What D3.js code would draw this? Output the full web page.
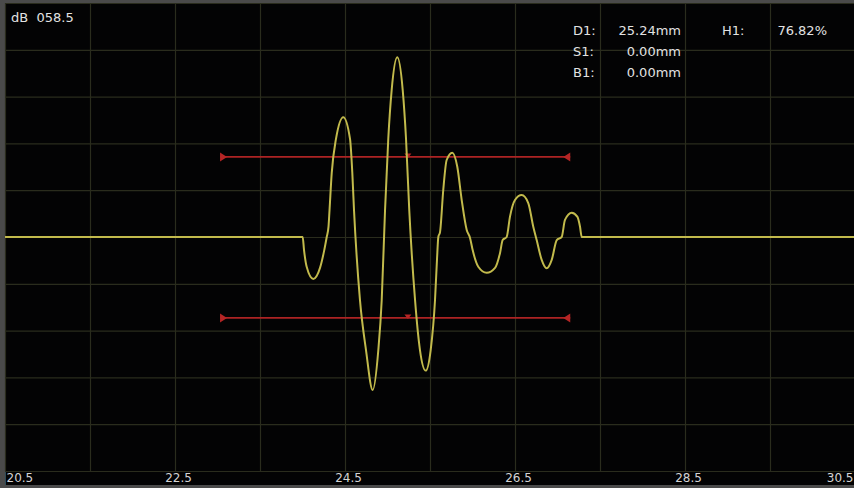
<!doctype html>
<html>
<head>
    <meta charset="utf-8">
    <title>A-scan echo</title>
    <style type="text/css">
        body { margin: 0; background: #4a4a4a; }
        svg { display: block; }
        .grid line { stroke: #2a2c1d; stroke-width: 1.2; }
        .grid path { display: none; }
        .wave { fill: none; stroke: #c2ba4c; stroke-width: 2; stroke-linejoin: round; }
        .gate { stroke: #ad2323; stroke-width: 1.7; }
        .gate-mark { fill: #b52525; }
        .info { fill: #e2e2e2; font-family: "DejaVu Sans", sans-serif; font-size: 13px; }
        .xlab text { fill: #d4d4d4; font-family: "DejaVu Sans", sans-serif; font-size: 12px; }
        .xlab path, .xlab line { display: none; }
    </style>
</head>
<body>
<div id="plot"></div>

<script src="https://d3js.org/d3.v7.min.js"></script>

<script>

    // echo trace: depth (mm) and amplitude (% screen height)
    var depthMm = [20.5, 24.002, 24.018, 24.049, 24.127, 24.206, 24.256, 24.285, 24.306, 24.318,
        24.344, 24.394, 24.480, 24.559, 24.586, 24.606, 24.676, 24.747,
        24.826, 24.892, 24.932, 24.971, 25.009, 25.049, 25.115, 25.179, 25.218, 25.256,
        25.324, 25.382, 25.449, 25.508, 25.559, 25.582, 25.598, 25.618, 25.656, 25.696,
        25.762, 25.821, 25.873, 25.932, 25.971, 26.002, 26.068, 26.167, 26.265, 26.324,
        26.355, 26.402, 26.441, 26.500, 26.579, 26.656, 26.715, 26.755, 26.814, 26.873,
        26.932, 26.991, 27.049, 27.088, 27.167, 27.233, 27.265, 27.285, 30.5];
    var amplitude = [0, 0, -5.6, -12.7, -17.9, -13.2, -5.6, 0, 4.4, 11.5,
        27.4, 41.9, 51.2, 41.9, 27.4, 11.5, -26.9, -48.3,
        -65.4, -48.3, -26.9, 11.5, 41.9, 62.8, 76.8, 62.8, 41.9, 11.5,
        -26.9, -48.3, -57.1, -48.3, -26.9, -9.8, 0, 2.1, 20.1, 32.9,
        36.0, 30.0, 15.8, 3.0, -0.4, -5.6, -12.7, -15.3, -13.2, -6.8,
        -1.3, 0, 8.7, 15.8, 17.9, 14.5, 4.4, -1.3, -9.8, -13.4,
        -9.8, -1.3, 0, 7.3, 10.4, 8.7, 4.4, 0, 0];

    // gates: start mm, end mm, level %
    var gateStart = [23.03, 23.03];
    var gateEnd = [27.15, 27.15];
    var gateLevel = [34.2, -34.6];
    var gateMarkMm = 25.24;

    var xTickLabels = [20.5, 22.5, 24.5, 26.5, 28.5, 30.5];
    var xGridTicks = [20.5, 21.5, 22.5, 23.5, 24.5, 25.5, 26.5, 27.5, 28.5, 29.5, 30.5];
    var yGridTicks = [-100, -80, -60, -40, -20, 0, 20, 40, 60, 80, 100];

    var readoutLeft = [["D1:", "25.24mm"], ["S1:", "0.00mm"], ["B1:", "0.00mm"]];
    var readoutRight = ["H1:", "76.82%"];
    var gainText = "dB  058.5";

    var W = 854, H = 488;
    var plot = { left: 5, right: 855, top: 3, bottom: 471 };

    var xScale = d3.scaleLinear().domain([20.5, 30.5]).range([plot.left, plot.right]);
    var yScale = d3.scaleLinear().domain([-100, 100]).range([plot.bottom, plot.top]);

    var svg = d3.select("#plot").append("svg")
        .attr("width", W)
        .attr("height", H);

    // frame
    svg.append("rect").attr("width", W).attr("height", H).attr("fill", "#4a4a4a");
    svg.append("rect")
        .attr("x", plot.left).attr("y", plot.top)
        .attr("width", W - plot.left).attr("height", 485 - plot.top)
        .attr("fill", "#030304");
    svg.append("line")
        .attr("x1", plot.left + 0.5).attr("x2", plot.left + 0.5)
        .attr("y1", plot.top).attr("y2", 485)
        .attr("stroke", "#2d4a55").attr("stroke-width", 1);

    // grid
    svg.append("g")
        .attr("class", "grid")
        .attr("transform", "translate(0," + plot.bottom + ")")
        .call(d3.axisBottom(xScale).tickValues(xGridTicks)
            .tickSize(-(plot.bottom - plot.top)).tickFormat(""));

    svg.append("g")
        .attr("class", "grid")
        .attr("transform", "translate(" + plot.left + ",0)")
        .call(d3.axisLeft(yScale).tickValues(yGridTicks)
            .tickSize(-(plot.right - plot.left)).tickFormat(""));

    // x labels (first and last pulled inside the frame)
    var xlab = svg.append("g")
        .attr("class", "xlab")
        .attr("transform", "translate(3," + (plot.bottom + 1) + ")")
        .call(d3.axisBottom(xScale).tickValues(xTickLabels).tickSize(0).tickPadding(1)
            .tickFormat(d3.format(".1f")));
    var last = xTickLabels.length - 1;
    xlab.selectAll("text")
        .attr("text-anchor", function (d, i) { return i === 0 ? "start" : (i === last ? "end" : "middle"); })
        .attr("dx", function (d, i) { return i === 0 ? -2 : (i === last ? -5 : 0); });

    // gates
    var gates = gateLevel.map(function (lv, i) { return { x0: gateStart[i], x1: gateEnd[i], y: lv }; });
    var g = svg.append("g");
    g.selectAll(".gate")
        .data(gates).enter().append("line")
        .attr("class", "gate")
        .attr("x1", function (d) { return xScale(d.x0); })
        .attr("x2", function (d) { return xScale(d.x1); })
        .attr("y1", function (d) { return yScale(d.y); })
        .attr("y2", function (d) { return yScale(d.y); });

    gates.forEach(function (d) {
        var y = yScale(d.y), a = xScale(d.x0), b = xScale(d.x1), m = xScale(gateMarkMm);
        g.append("path").attr("class", "gate-mark")
            .attr("d", "M" + a + "," + (y - 4.5) + "L" + (a + 7) + "," + y + "L" + a + "," + (y + 4.5) + "Z");
        g.append("path").attr("class", "gate-mark")
            .attr("d", "M" + b + "," + (y - 4.5) + "L" + (b - 7) + "," + y + "L" + b + "," + (y + 4.5) + "Z");
        g.append("path").attr("class", "gate-mark")
            .attr("d", "M" + (m - 3.5) + "," + (y - 3.5) + "L" + (m + 3.5) + "," + (y - 3.5) + "L" + m + "," + (y + 1) + "Z");
    });

    // echo trace
    var line = d3.line()
        .x(function (d) { return xScale(d[0]); })
        .y(function (d) { return yScale(d[1]); })
        .curve(d3.curveMonotoneX);

    svg.append("path")
        .datum(depthMm.map(function (d, i) { return [d, amplitude[i]]; }))
        .attr("class", "wave")
        .attr("d", line);

    // readouts
    svg.append("text").attr("class", "info")
        .attr("x", 11).attr("y", 22)
        .style("white-space", "pre")
        .text(gainText);

    readoutLeft.forEach(function (r, i) {
        var y = 35 + i * 21;
        svg.append("text").attr("class", "info").attr("x", 573).attr("y", y).text(r[0]);
        svg.append("text").attr("class", "info").attr("x", 681).attr("y", y)
            .attr("text-anchor", "end").text(r[1]);
    });
    svg.append("text").attr("class", "info").attr("x", 722).attr("y", 35).text(readoutRight[0]);
    svg.append("text").attr("class", "info").attr("x", 827).attr("y", 35)
        .attr("text-anchor", "end").text(readoutRight[1]);

</script>
</body>
</html>
